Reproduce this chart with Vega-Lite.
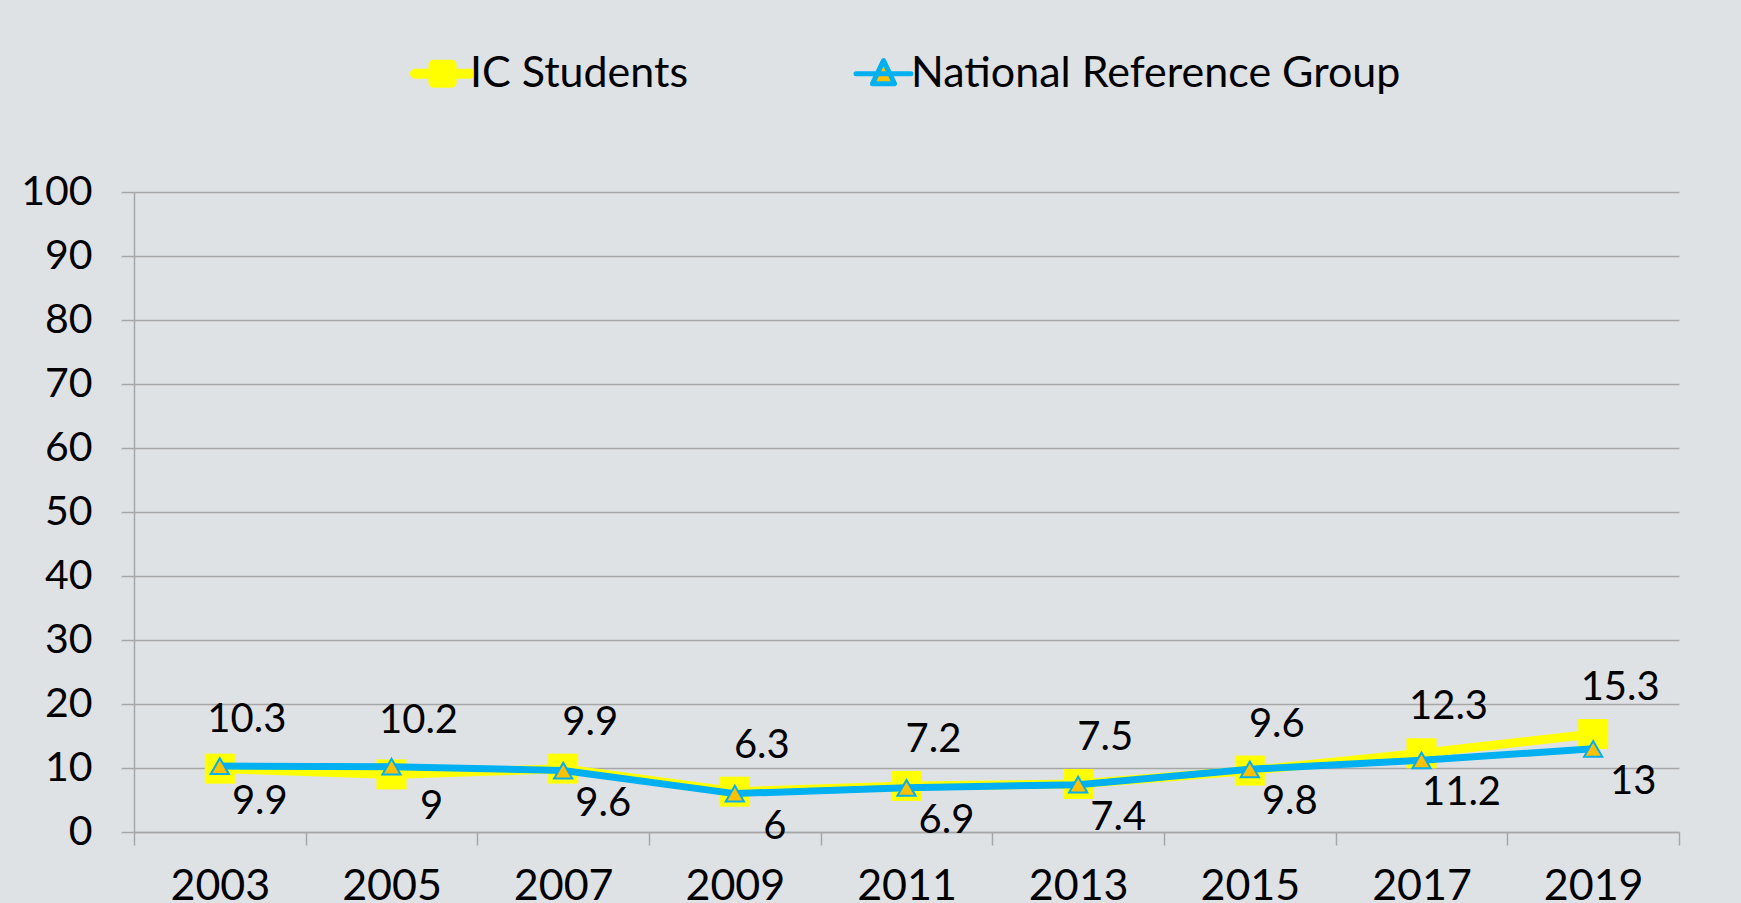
{
  "$schema": "https://vega.github.io/schema/vega-lite/v6.json",
  "width": 1545,
  "height": 640,
  "autosize": {"type": "none"},
  "padding": {"left": 134, "top": 192, "right": 62, "bottom": 71},
  "background": "#DFE2E5",
  "config": {"view": {"stroke": null}, "font": "Lato"},
  "data": {
    "values": [
      {"year": "2003", "series": "IC Students", "value": 9.9},
      {"year": "2005", "series": "IC Students", "value": 9},
      {"year": "2007", "series": "IC Students", "value": 9.9},
      {"year": "2009", "series": "IC Students", "value": 6.3},
      {"year": "2011", "series": "IC Students", "value": 7.2},
      {"year": "2013", "series": "IC Students", "value": 7.5},
      {"year": "2015", "series": "IC Students", "value": 9.6},
      {"year": "2017", "series": "IC Students", "value": 12.3},
      {"year": "2019", "series": "IC Students", "value": 15.3},
      {"year": "2003", "series": "National Reference Group", "value": 10.3},
      {"year": "2005", "series": "National Reference Group", "value": 10.2},
      {"year": "2007", "series": "National Reference Group", "value": 9.6},
      {"year": "2009", "series": "National Reference Group", "value": 6},
      {"year": "2011", "series": "National Reference Group", "value": 6.9},
      {"year": "2013", "series": "National Reference Group", "value": 7.4},
      {"year": "2015", "series": "National Reference Group", "value": 9.8},
      {"year": "2017", "series": "National Reference Group", "value": 11.2},
      {"year": "2019", "series": "National Reference Group", "value": 13}
    ]
  },
  "encoding": {
    "x": {
      "field": "year",
      "type": "ordinal",
      "scale": {"type": "band", "paddingInner": 0, "paddingOuter": 0},
      "axis": {
        "title": null,
        "labelAngle": 0,
        "labelFont": "Lato",
        "labelFontSize": 43,
        "labelColor": "#000000",
        "labelPadding": 20,
        "tickBand": "extent",
        "tickSize": 13,
        "tickColor": "#A6A6A6",
        "tickWidth": 1.5,
        "domainColor": "#A6A6A6",
        "domainWidth": 1.5,
        "grid": false
      }
    },
    "y": {
      "field": "value",
      "type": "quantitative",
      "scale": {"domain": [0, 100]},
      "axis": {
        "title": null,
        "values": [0, 10, 20, 30, 40, 50, 60, 70, 80, 90, 100],
        "labelFont": "Lato",
        "labelFontSize": 41,
        "labelColor": "#000000",
        "labelPadding": 29,
        "tickSize": 13,
        "tickColor": "#A6A6A6",
        "tickWidth": 1.5,
        "domainColor": "#A6A6A6",
        "domainWidth": 1.5,
        "grid": true,
        "gridColor": "#A6A6A6",
        "gridWidth": 1.5
      }
    }
  },
  "layer": [
    {
      "transform": [{"filter": "datum.series === 'IC Students'"}],
      "mark": {"type": "line", "strokeWidth": 9, "strokeJoin": "round"},
      "encoding": {
        "color": {
          "field": "series",
          "type": "nominal",
          "scale": {"domain": ["IC Students", "National Reference Group"], "range": ["#FFFF00", "#00B0F0"]},
          "legend": {
            "orient": "none",
            "legendX": 287,
            "legendY": -140,
            "direction": "horizontal",
            "title": null,
            "labelFont": "Lato",
            "labelFontSize": 43,
            "labelColor": "#000000",
            "labelLimit": 1000,
            "labelOffset": 6,
            "symbolSize": 3025,
            "columnPadding": 164,
            "encode": {
              "symbols": {
                "update": {
                  "shape": {"signal": "datum.value === 'IC Students' ? 'M-1,0H1M-0.33,-0.33H0.33V0.33H-0.33Z' : 'M-1,0H1M0,-0.48L0.4,0.36H-0.4Z'"},
                  "fill": {"signal": "datum.value === 'IC Students' ? '#FFFF00' : '#FFC000'"},
                  "stroke": {"signal": "datum.value === 'IC Students' ? '#FFFF00' : '#00B0F0'"},
                  "strokeWidth": {"signal": "datum.value === 'IC Students' ? 10 : 5"},
                  "strokeCap": {"value": "round"},
                  "strokeJoin": {"value": "round"},
                  "opacity": {"value": 1},
                  "fillOpacity": {"value": 1},
                  "strokeOpacity": {"value": 1}
                }
              }
            }
          }
        }
      }
    },
    {
      "transform": [{"filter": "datum.series === 'IC Students'"}],
      "mark": {"type": "point", "shape": "square", "filled": true, "color": "#FFFF00", "size": 900, "opacity": 1}
    },
    {
      "transform": [{"filter": "datum.series === 'National Reference Group'"}],
      "mark": {"type": "line", "strokeWidth": 7, "strokeJoin": "round"},
      "encoding": {
        "color": {
          "field": "series",
          "type": "nominal",
          "scale": {"domain": ["IC Students", "National Reference Group"], "range": ["#FFFF00", "#00B0F0"]}
        }
      }
    },
    {
      "transform": [{"filter": "datum.series === 'National Reference Group'"}],
      "mark": {"type": "point", "shape": "triangle-up", "filled": true, "fill": "#FFC000", "stroke": "#00B0F0", "strokeWidth": 2, "size": 330, "opacity": 1}
    },
    {
      "transform": [{"filter": "(datum.series === 'IC Students') === (toNumber(datum.year) >= 2007)"}],
      "mark": {"type": "text", "font": "Lato", "fontSize": 40, "color": "#000000", "dx": 27, "dy": -46, "baseline": "middle"},
      "encoding": {"text": {"field": "value", "type": "quantitative"}}
    },
    {
      "transform": [{"filter": "(datum.series === 'IC Students') !== (toNumber(datum.year) >= 2007)"}],
      "mark": {"type": "text", "font": "Lato", "fontSize": 40, "color": "#000000", "dx": 40, "dy": 33, "baseline": "middle"},
      "encoding": {"text": {"field": "value", "type": "quantitative"}}
    }
  ]
}
